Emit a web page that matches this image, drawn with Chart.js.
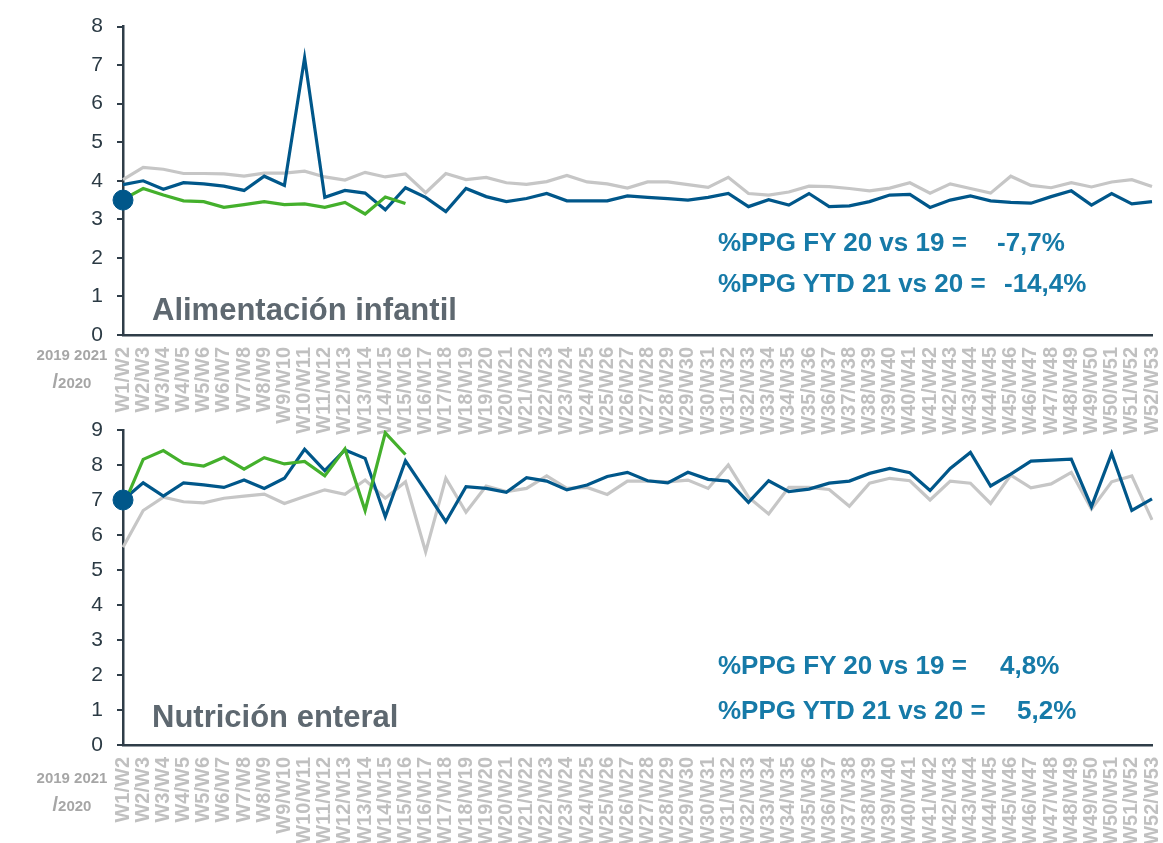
<!DOCTYPE html>
<html>
<head>
<meta charset="utf-8">
<script src="https://cdn.jsdelivr.net/npm/chart.js@4/dist/chart.umd.min.js"></script>
<style>
  body { margin: 0; background: #fff; font-family: "Liberation Sans", Arial, sans-serif; }
  #wrap { position: relative; width: 1163px; height: 843px; overflow: hidden; }
  canvas { position: absolute; left: 0; top: 0; }
  .txt { position: absolute; white-space: pre; line-height: 1; font-weight: bold; }
  .ppg { font-size: 26px; color: #167aa8; }
  .title { font-size: 31px; color: #5e6870; }
  .leg { font-size: 15px; color: #a6a6a6; text-align: center; width: 90px; }
</style>
</head>
<body>
<div id="wrap">
  <canvas id="topChart" width="1163" height="843"></canvas>
  <canvas id="bottomChart" width="1163" height="843"></canvas>

  <div class="txt title" style="left:152px; top:294px;">Alimentación infantil</div>
  <div class="txt ppg" style="left:718px; top:229px;">%PPG FY 20 vs 19 =</div>
  <div class="txt ppg" style="left:997px; top:229px;">-7,7%</div>
  <div class="txt ppg" style="left:718px; top:270px;">%PPG YTD 21 vs 20 =</div>
  <div class="txt ppg" style="left:1004px; top:270px;">-14,4%</div>

  <div class="txt title" style="left:152px; top:701px;">Nutrición enteral</div>
  <div class="txt ppg" style="left:718px; top:652px;">%PPG FY 20 vs 19 =</div>
  <div class="txt ppg" style="left:1000px; top:652px;">4,8%</div>
  <div class="txt ppg" style="left:718px; top:697px;">%PPG YTD 21 vs 20 =</div>
  <div class="txt ppg" style="left:1017px; top:697px;">5,2%</div>

  <div class="txt leg" style="left:27px; top:347px;">2019 2021</div>
  <div class="txt leg" style="left:27px; top:371px;"><span style="font-size:20px">/</span>2020</div>
  <div class="txt leg" style="left:27px; top:770px;">2019 2021</div>
  <div class="txt leg" style="left:27px; top:794px;"><span style="font-size:20px">/</span>2020</div>
</div>

<script>
// ================================
// DATA
// ================================
const weeks = [];
for (let w = 1; w <= 52; w++) weeks.push("W" + w + "/W" + (w + 1));

// Alimentación infantil
const infantil2019 = [4.03, 4.35, 4.3, 4.19, 4.19, 4.18, 4.12, 4.2, 4.2, 4.25,
  4.1, 4.02, 4.22, 4.1, 4.18, 3.69, 4.19, 4.03, 4.09, 3.95,
  3.91, 3.98, 4.14, 3.97, 3.92, 3.81, 3.97, 3.97, 3.9, 3.83,
  4.09, 3.67, 3.63, 3.71, 3.86, 3.85, 3.8, 3.74, 3.81, 3.95,
  3.68, 3.92, 3.8, 3.68, 4.12, 3.88, 3.82, 3.95, 3.84, 3.97,
  4.03, 3.85];
const infantil2020 = [3.9, 4.0, 3.78, 3.95, 3.92, 3.86, 3.75, 4.12, 3.88, 7.19,
  3.57, 3.75, 3.68, 3.25, 3.82, 3.57, 3.2, 3.8, 3.59, 3.46,
  3.54, 3.67, 3.48, 3.48, 3.48, 3.61, 3.57, 3.54, 3.5, 3.57,
  3.67, 3.33, 3.51, 3.37, 3.67, 3.33, 3.35, 3.46, 3.63, 3.65,
  3.31, 3.5, 3.61, 3.48, 3.44, 3.42, 3.59, 3.74, 3.37, 3.67,
  3.4, 3.46];
const infantil2021 = [3.52, 3.8, 3.63, 3.48, 3.46, 3.31, 3.38, 3.46, 3.38, 3.4,
  3.31, 3.44, 3.14, 3.58, 3.41];
const infantilMarker = [3.5];

// Nutrición enteral
const enteral2019 = [5.65, 6.7, 7.08, 6.95, 6.92, 7.05, 7.11, 7.17, 6.9, 7.1,
  7.29, 7.16, 7.57, 7.05, 7.52, 5.52, 7.62, 6.65, 7.4, 7.24,
  7.33, 7.69, 7.33, 7.36, 7.16, 7.54, 7.54, 7.52, 7.57, 7.33,
  8.0, 7.08, 6.6, 7.36, 7.36, 7.3, 6.82, 7.48, 7.62, 7.55,
  7.0, 7.54, 7.48, 6.9, 7.71, 7.35, 7.46, 7.79, 6.74, 7.52,
  7.69, 6.43];
const enteral2020 = [7.0, 7.49, 7.11, 7.49, 7.43, 7.36, 7.57, 7.33, 7.62, 8.45,
  7.84, 8.43, 8.19, 6.52, 8.12, 7.26, 6.38, 7.38, 7.33, 7.22,
  7.64, 7.54, 7.29, 7.43, 7.67, 7.79, 7.55, 7.49, 7.79, 7.59,
  7.54, 6.93, 7.55, 7.24, 7.31, 7.48, 7.54, 7.76, 7.9, 7.78,
  7.27, 7.9, 8.36, 7.4, 7.74, 8.11, 8.14, 8.17, 6.81, 8.33,
  6.7, 7.03];
const enteral2021 = [6.81, 8.16, 8.41, 8.05, 7.97, 8.22, 7.88, 8.21, 8.03, 8.1,
  7.69, 8.46, 6.7, 8.92, 8.3];
const enteralMarker = [7.0];

// ================================
// COLORS
// ================================
const BLUE = "#00578a";
const GREEN = "#44b02c";
const GRAY = "#c6c6c6";
const AXIS = "#2f3d48";

function lineSet(label, data, color) {
  return {
    label: label,
    data: data,
    borderColor: color,
    backgroundColor: color,
    borderWidth: 3.2,
    pointRadius: 0,
    tension: 0,
    fill: false
  };
}

function makeChart(id, v2019, v2020, v2021, marker, yMax, padTop, padBottom, xHeight) {
  return new Chart(document.getElementById(id), {
    type: "line",
    data: {
      labels: weeks,
      datasets: [
        {
          label: "marker",
          data: marker,
          borderColor: BLUE,
          backgroundColor: BLUE,
          showLine: false,
          pointRadius: 10,
          clip: false
        },
        lineSet("2021", v2021, GREEN),
        lineSet("2020", v2020, BLUE),
        lineSet("2019", v2019, GRAY)
      ]
    },
    options: {
      responsive: false,
      animation: false,
      layout: {
        padding: { top: padTop, bottom: padBottom, left: 0, right: 10 }
      },
      plugins: {
        legend: { display: false },
        tooltip: { enabled: false }
      },
      scales: {
        x: {
          offset: false,
          grid: { display: false },
          border: { display: true, color: AXIS, width: 2.5 },
          ticks: {
            autoSkip: false,
            minRotation: 90,
            maxRotation: 90,
            padding: 4,
            color: "#c0c0c0",
            font: { family: "'Liberation Sans', Arial, sans-serif", size: 20, weight: "bold" }
          },
          afterFit: function(scale) {
            scale.height = xHeight;
            scale.paddingRight = 0;
            scale.paddingLeft = 0;
          }
        },
        y: {
          min: 0,
          max: yMax,
          grid: {
            drawOnChartArea: false,
            drawTicks: true,
            tickLength: 6,
            color: AXIS,
            lineWidth: 2
          },
          border: { display: true, color: AXIS, width: 2.5 },
          ticks: {
            stepSize: 1,
            padding: 14,
            color: "#2b3a44",
            font: { family: "'Liberation Sans', Arial, sans-serif", size: 21 }
          },
          afterFit: function(scale) { scale.width = 123; }
        }
      }
    }
  });
}

// top: chart area 21 -> 335, bottom: chart area 430 -> 745
makeChart("topChart", infantil2019, infantil2020, infantil2021, infantilMarker, 8, 21, 843 - 335 - 100, 100);
makeChart("bottomChart", enteral2019, enteral2020, enteral2021, enteralMarker, 9, 430, 0, 98);
</script>
</body>
</html>
